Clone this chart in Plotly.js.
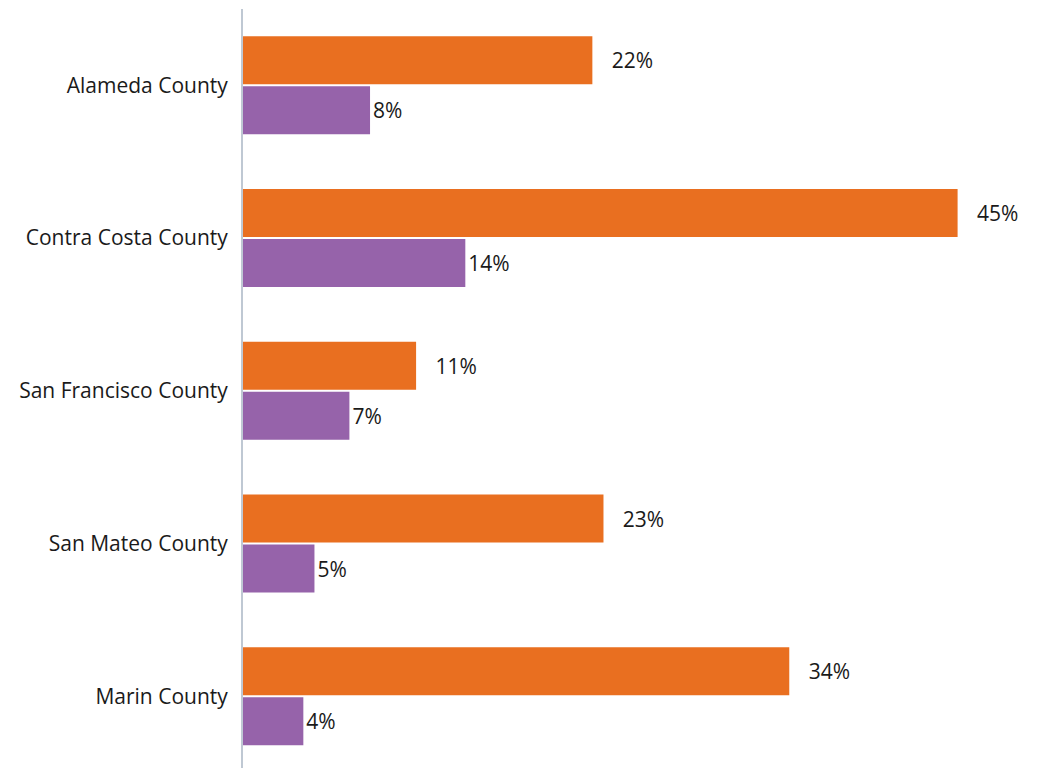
<!DOCTYPE html>
<html>
<head>
<meta charset="utf-8">
<script src="https://cdn.plot.ly/plotly-3.0.1.min.js"></script>
<style>html,body{margin:0;padding:0;background:#fff;}#chart{width:1037px;height:768px;}</style>
</head>
<body>
<div id="chart"></div>
<script>
var counties = ["Alameda County", "Contra Costa County", "San Francisco County", "San Mateo County", "Marin County"];
var seriesA = [22.0, 45.0, 10.9, 22.7, 34.4];
var seriesB = [8.0, 14.0, 6.7, 4.5, 3.8];
var labelsA = ["22%", "45%", "11%", "23%", "34%"];
var labelsB = ["8%", "14%", "7%", "5%", "4%"];

var font = {family: "Open Sans, sans-serif", size: 21, color: "#1a1a1a"};

var traces = [
  {type: "bar", orientation: "h", y: counties, x: seriesA, text: labelsA,
   texttemplate: "\u00a0\u00a0\u00a0%{text}",
   textposition: "outside", cliponaxis: false, marker: {color: "#E96F20"},
   textfont: font, hoverinfo: "none", name: "A"},
  {type: "bar", orientation: "h", y: counties, x: seriesB, text: labelsB,
   textposition: "outside", cliponaxis: false, marker: {color: "#9663AA"},
   textfont: font, hoverinfo: "none", name: "B"}
];

var layout = {
  width: 1037, height: 768,
  margin: {l: 243, r: 0, t: 9, b: 0},
  paper_bgcolor: "#fff", plot_bgcolor: "#fff",
  showlegend: false,
  barmode: "group",
  bargap: 0.345,
  bargroupgap: 0.04,
  font: font,
  xaxis: {range: [0, 50], visible: false, fixedrange: true},
  yaxis: {
    type: "category",
    range: [4.47, -0.5],
    showline: true, linecolor: "#BFC8D3", linewidth: 2,
    showgrid: false, zeroline: false, ticks: "",
    ticklabelstandoff: 9,
    tickfont: font
  }
};

Plotly.newPlot("chart", traces, layout, {staticPlot: true, displayModeBar: false});
</script>
</body>
</html>
